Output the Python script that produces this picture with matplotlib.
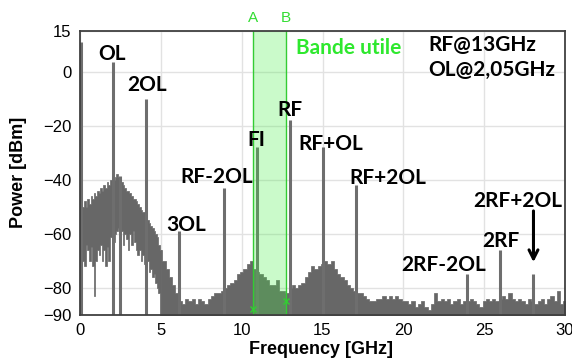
import numpy as np
import matplotlib
matplotlib.use("Agg")
import matplotlib.pyplot as plt
from matplotlib.transforms import blended_transform_factory

# noise hump below 5 GHz: upper and lower envelope, 0.1 GHz step
hump_upper = [-55, -54, -50, -48, -50, -47, -49, -46, -47, -45,
              -46, -44, -45, -43, -44, -42, -43, -41, -42, -40,
              -41, -40, -39, -38, -39, -40, -41, -42, -43, -44,
              -44, -45, -46, -47, -47, -48, -49, -50, -51, -52,
              -52, -54, -55, -56, -57, -58, -59, -60, -61, -64, -66]
hump_lower = [-62, -61, -70, -72, -64, -66, -70, -65, -72, -83,
              -70, -66, -68, -64, -70, -66, -72, -65, -70, -61,
              -72, -63, -60, -59, -58, -62, -59, -64, -60, -62,
              -66, -60, -64, -59, -63, -66, -68, -66, -70, -68,
              -71, -72, -70, -74, -73, -76, -75, -78, -80, -82, -95]

# noise floor from 5 to 30 GHz, 0.2 GHz step
floor_upper = [-66, -70, -73, -76, -79, -82, -85, -86, -84, -85,
               -84, -86, -84, -85, -86, -84, -83, -82, -82, -81,
               -80, -79, -78, -77, -75, -74, -73, -71, -70, -73,
               -74, -75, -76, -77, -79, -79, -77, -81, -81, -82,
               -80, -79, -80, -79, -78, -76, -74, -72, -73, -72,
               -71, -70, -71, -70, -73, -75, -76, -77, -79, -80,
               -81, -82, -82, -83, -84, -85, -85, -84, -84, -83,
               -84, -83, -84, -83, -84, -85, -85, -86, -85, -87,
               -86, -85, -87, -88, -86, -82, -85, -84, -85, -84,
               -86, -85, -84, -86, -85, -85, -84, -85, -86, -87,
               -85, -84, -85, -84, -85, -84, -83, -84, -82, -84,
               -85, -84, -85, -86, -84, -85, -86, -85, -84, -86,
               -84, -83, -85, -81, -86, -85]

peak_freqs = [0.05, 2.05, 2.47, 4.1, 6.15, 8.9, 10.95, 13.0, 15.05, 17.1, 23.95, 26.0, 28.0]
peak_levels = [11, 3.7, -38.7, -10, -59, -43, -28, -18, -28, -42, -75, -66, -75]

labels = ["OL", "2OL", "3OL", "RF-2OL", "FI", "RF", "RF+OL", "RF+2OL",
          "2RF-2OL", "2RF", "2RF+2OL"]
label_x = [1.98, 4.14, 6.56, 8.47, 10.88, 12.99, 15.52, 19.05, 22.5, 26.04, 27.09]
label_y = [6.5, -5.0, -56.7, -39, -25.3, -14.2, -26.8, -39.3, -71.5, -62.6, -47.8]

band_a, band_b = 10.72, 12.74

f1 = 0.1 * np.arange(len(hump_upper))
f2 = 5.0 + 0.2 * np.arange(len(floor_upper))

fig = plt.figure(figsize=(5.72, 3.63), dpi=100)
ax = fig.add_axes([80 / 572, 1 - 315 / 363, 485 / 572, 284 / 363])

gray = "#676767"
ax.fill_between(f1, hump_lower, hump_upper, step="mid", facecolor=gray,
                edgecolor=gray, lw=0.5, zorder=2)
ax.fill_between(f2, -95, floor_upper, step="mid", facecolor=gray,
                edgecolor=gray, lw=0.5, zorder=2)
ax.vlines(peak_freqs, -95, peak_levels, color="#6e6e6e", lw=2.2, zorder=3)

# useful band
ax.axvspan(band_a, band_b, color="#44ee44", alpha=0.28, lw=0, zorder=4)
ax.axvline(band_a, color="#33cc33", lw=1, zorder=5)
ax.axvline(band_b, color="#33cc33", lw=1, zorder=5)
ax.plot([band_a, band_b], [-87.8, -85], "x", color="#33cc33", ms=4, mew=1, zorder=6)
tr = blended_transform_factory(ax.transData, ax.transAxes)
ax.text(band_a, 1.046, "A", transform=tr, color="#33dd33", fontsize=11,
        ha="center", va="center", family="Liberation Sans")
ax.text(band_b, 1.046, "B", transform=tr, color="#33dd33", fontsize=11,
        ha="center", va="center", family="Liberation Sans")

ax.set_xlim(0, 30)
ax.set_ylim(-90, 15)
ax.set_xticks([0, 5, 10, 15, 20, 25, 30])
ax.set_yticks([15, 0, -20, -40, -60, -80, -90])
ax.grid(True, color="#e2e2e2", lw=1, zorder=0)
ax.set_axisbelow(True)
ax.tick_params(length=0, pad=6, labelsize=12)
for lab in ax.get_xticklabels() + ax.get_yticklabels():
    lab.set_family("Liberation Sans")
for s in ax.spines.values():
    s.set_color("#404040")
    s.set_linewidth(1.3)
    s.set_zorder(7)

fig.text(19 / 572, 1 - 172 / 363, "Power [dBm]", rotation=90, ha="center", va="center",
         fontsize=13, fontweight="bold", family="Liberation Sans")
fig.text(321 / 572, 1 - 350 / 363, "Frequency [GHz]", ha="center", va="center",
         fontsize=13, fontweight="bold", family="Liberation Sans")

for t, x, y in zip(labels, label_x, label_y):
    ax.text(x, y, t, ha="center", va="center", fontsize=15, fontweight="bold",
            family="Lato", color="black", zorder=8, clip_on=False)

ax.text(16.64, 8.7, "Bande utile", ha="center", va="center", fontsize=15,
        fontweight="bold", family="Lato", color="#2ee82e", zorder=8)
ax.text(21.52, 9.8, "RF@13GHz", ha="left", va="center", fontsize=15,
        fontweight="bold", family="Lato", zorder=8, clip_on=False)
ax.text(21.52, 0.6, "OL@2,05GHz", ha="left", va="center", fontsize=15,
        fontweight="bold", family="Lato", zorder=8, clip_on=False)

ax.annotate("", xy=(28.05, -71.5), xytext=(28.05, -50.5),
            arrowprops=dict(arrowstyle="->", color="black", lw=2.2, mutation_scale=16),
            zorder=8)

fig.savefig("out.png", dpi=100)
